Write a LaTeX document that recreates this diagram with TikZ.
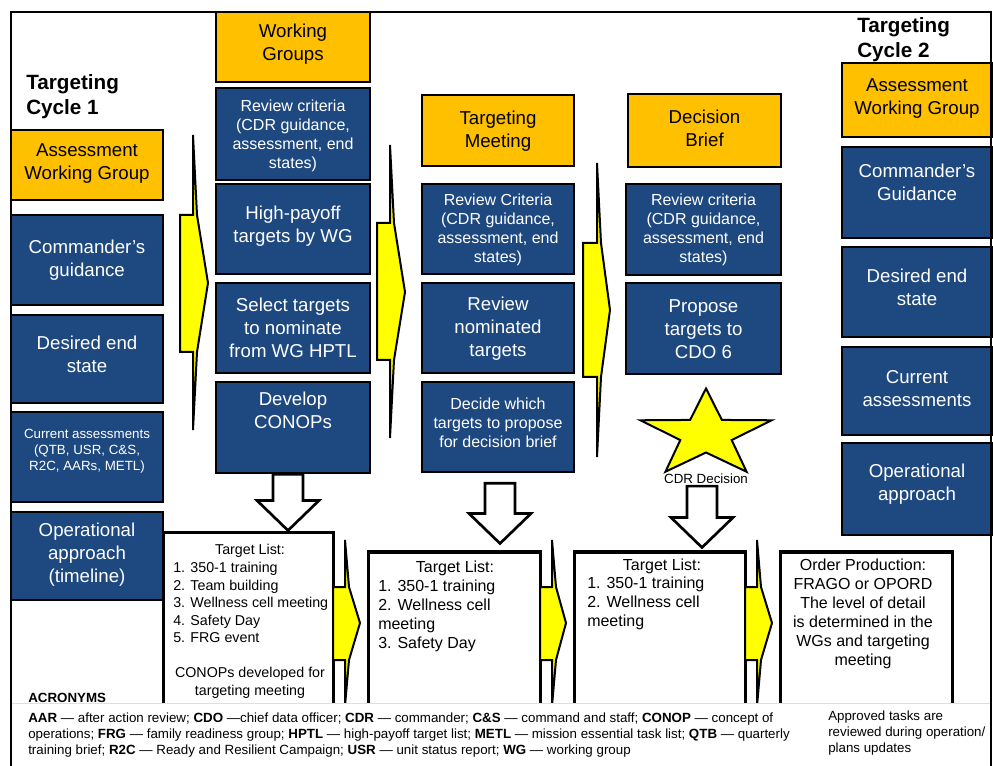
\documentclass[tikz,border=0pt]{standalone}
\usepackage{fontspec}
\setmainfont{Liberation Sans}
\usetikzlibrary{fit,calc,positioning}

\definecolor{hdryellow}{RGB}{255,192,0}
\definecolor{cellblue}{RGB}{30,72,128}
\definecolor{flowyellow}{RGB}{255,255,0}

\newcommand{\boxfont}{\fontsize{14}{17.25}\selectfont}
\newcommand{\critfont}{\fontsize{12}{14.25}\selectfont}
\newcommand{\notefont}{\fontsize{10}{12}\selectfont}

\tikzset{
  header/.style={draw=black, line width=2pt, fill=hdryellow, inner sep=0pt},
  cell/.style={draw=black, line width=2pt, fill=cellblue, inner sep=0pt},
  intext/.style={inner sep=0pt, align=center, font=\boxfont},
  whitetext/.style={intext, text=white},
  smalltext/.style={whitetext, font=\critfont},
  dropby/.style={yshift={-(#1)*0.75pt}},
  listbox/.style={draw=black, line width=2.25pt, fill=white, inner sep=0pt},
  listtext/.style={inner sep=0pt, align=left, font=\critfont},
  flow/.style={draw=black, line width=1.5pt, fill=flowyellow, line join=miter},
  hollow/.style={draw=black, line width=2pt, fill=white, line join=miter},
  cycletitle/.style={inner sep=0pt, align=left,
    font=\fontsize{15.5}{18.75}\selectfont\bfseries},
}

\begin{document}
\begin{tikzpicture}[x=0.75pt, y=-0.75pt]
  \useasboundingbox (0,0) rectangle (993,766);

  % cycle 1
  \node[cycletitle, anchor=north west] (cyc1) at (26,74) {Targeting\\Cycle 1};
  \node[header, fit={(11,130) (163,200)},
        label={[intext, dropby=-1.5]center:{Assessment\\Working Group}}] (awg1) {};
  \node[cell, fit={(11,215) (163,305)},
        label={[whitetext, dropby=0.5]center:{Commander’s\\guidance}}] (cg1) {};
  \node[cell, fit={(11,315) (163,403)},
        label={[whitetext, dropby=-5]center:{Desired end\\state}}] (des1) {};
  \node[cell, fit={(11,412) (163,502)},
        label={[whitetext, dropby=-5.5, font=\fontsize{10}{12}\selectfont]center:{Current assessments\\(QTB, USR, C\&S,\\R2C, AARs, METL)}}] (cur1) {};
  \node[cell, fit={(11,512) (163,600)},
        label={[whitetext, dropby=-1.5]center:{Operational\\approach\\(timeline)}}] (opa1) {};

  % working groups
  \node[header, fit={(216,12) (370,82)},
        label={[intext, dropby=-2.5]center:{Working\\Groups}}] (wg) {};
  \node[cell, fit={(216,88) (370,180)},
        label={[smalltext, dropby=1.5]center:{Review criteria\\(CDR guidance,\\assessment, end\\states)}}] (rc2) {};
  \node[cell, fit={(216,184) (370,274)},
        label={[whitetext, dropby=-2.5]center:{High-payoff\\targets by WG}}] (hp) {};
  \node[cell, fit={(216,283) (370,373)},
        label={[whitetext]center:{Select targets\\to nominate\\from WG HPTL}}] (sel) {};
  \node[cell, fit={(216,382) (370,473)},
        label={[whitetext, dropby=-17.5]center:{Develop\\CONOPs}}] (dev) {};

  % targeting meeting
  \node[header, fit={(422,95) (574,166)},
        label={[intext, dropby=1]center:{Targeting\\Meeting}}] (tm) {};
  \node[cell, fit={(422,184) (574,274)},
        label={[smalltext, dropby=1]center:{Review Criteria\\(CDR guidance,\\assessment, end\\states)}}] (rc3) {};
  \node[cell, fit={(422,283) (574,373)},
        label={[whitetext, dropby=1]center:{Review\\nominated\\targets}}] (rn) {};
  \node[cell, fit={(422,382) (574,472)},
        label={[smalltext, dropby=-4]center:{Decide which\\targets to propose\\for decision brief}}] (dw) {};

  % decision brief
  \node[header, fit={(628,94) (781,167)},
        label={[intext, dropby=-2]center:{Decision\\Brief}}] (db) {};
  \node[cell, fit={(626,184) (781,275)},
        label={[smalltext]center:{Review criteria\\(CDR guidance,\\assessment, end\\states)}}] (rc4) {};
  \node[cell, fit={(626,283) (781,374)},
        label={[whitetext, dropby=1]center:{Propose\\targets to\\CDO 6}}] (pro) {};
  \begin{scope}[shift={(706,434.5)}, xscale=1.5]
    \draw[flow] (-90:46) -- (-54:18) -- (-18:46) -- (18:18) -- (54:46) -- (90:18)
      -- (126:46) -- (162:18) -- (198:46) -- (234:18) -- cycle;
  \end{scope}
  \node[inner sep=0pt, font=\notefont] (cdr) at (706,479) {CDR Decision};

  % cycle 2
  \node[cycletitle, anchor=north west] (cyc2) at (857,17) {Targeting\\Cycle 2};
  \node[header, fit={(842,63) (992,137)},
        label={[intext, dropby=-1.5]center:{Assessment\\Working Group}}] (awg2) {};
  \node[cell, fit={(842,147) (992,238)},
        label={[whitetext, dropby=-10]center:{Commander’s\\Guidance}}] (cg2) {};
  \node[cell, fit={(842,247) (992,337)},
        label={[whitetext, dropby=-4.5]center:{Desired end\\state}}] (des2) {};
  \node[cell, fit={(842,347) (992,435)},
        label={[whitetext, dropby=-2]center:{Current\\assessments}}] (cur2) {};
  \node[cell, fit={(842,443) (992,535)},
        label={[whitetext, dropby=-5]center:{Operational\\approach}}] (opa2) {};

  % target lists
  \node[listbox, fit={(163,533) (333,725)}] (tl1) {};
  \node[listbox, fit={(368,552) (540,725)}] (tl2) {};
  \node[listbox, fit={(574,552) (745,725)}] (tl3) {};
  \node[listbox, fit={(780,552) (952,725)}] (op) {};

  \node[listtext, font=\fontsize{10.7}{13.1}\selectfont, anchor=north] (tl1h) at (250,544) {Target List:};
  \node[listtext, font=\fontsize{10.7}{13.1}\selectfont, anchor=north west] (tl1l) at (173,562)
       {1. 350-1 training\\2. Team building\\3. Wellness cell meeting\\4. Safety Day\\5. FRG event};
  \node[listtext, font=\fontsize{10.7}{13.1}\selectfont, align=center, anchor=north] (tl1f) at (250,667)
       {CONOPs developed for\\targeting meeting};
  \node[listtext, anchor=north] (tl2h) at (455,561) {Target List:};
  \node[listtext, anchor=north west] (tl2l) at (378,580)
       {1. 350-1 training\\2. Wellness cell\\meeting\\3. Safety Day};
  \node[listtext, anchor=north] (tl3h) at (662,559) {Target List:};
  \node[listtext, anchor=north west] (tl3l) at (587,577)
       {1. 350-1 training\\2. Wellness cell\\meeting};
  \node[listtext, align=center, anchor=north] (opt) at (863,559)
       {Order Production:\\FRAGO or OPORD\hspace*{12pt}\\The level of detail\\is determined in the\\WGs and targeting\\meeting};

  % down arrows
  \foreach \s/\e/\dx/\g/\d in {dev/tl1/-5/0/1, dw/tl2/2/10/7, cdr/tl3/-4/2/3}
    \draw[hollow] ($(\s.south)+(\dx-15,\g)$) coordinate (a)
      -- ($(\s.south |- \e.north)+(\dx-15,-30-\d)$) -- ++(-16,0)
      -- ($(\s.south |- \e.north)+(\dx,-\d)$) -- ++(31,-30) -- ++(-16,0) |- (a) -- cycle;

  % flow arrows
  \foreach \sx/\sa/\sb/\bx/\ba/\bb/\tx/\ty in {193/135/430/180/215/352/208/283,
      390/145/438/377/223/360/405/292, 597/163/457/583/243/377/610/310,
      345/540/706/333/587/660/360/623, 552/540/706/540/587/660/566/623,
      757/540/706/745/587/660/772/623}
    \draw[flow] (\sx,\sa) -- (\sx+4,\ba) -- (\tx,\ty) -- (\sx+4,\bb) -- (\sx,\sb)
      -- (\sx,\bb) -- (\bx,\bb) -- (\bx,\ba) -- (\sx,\ba) -- cycle;

  % acronyms
  \fill[white] (12,703) rectangle (990,766);
  \draw[gray!25, line width=0.5pt] (12,703) -- (990,703);
  \node[inner sep=0pt, anchor=north west, font=\notefont\bfseries] (acro) at (28,692.5) {ACRONYMS};
  \node[inner sep=0pt, anchor=north west, align=left, font=\fontsize{10}{12}\selectfont] (legend) at (28,712.5)
       {\textbf{AAR} — after action review; \textbf{CDO} —chief data officer; \textbf{CDR} — commander; \textbf{C\&S} — command and staff; \textbf{CONOP} — concept of\\
        operations; \textbf{FRG} — family readiness group; \textbf{HPTL} — high-payoff target list; \textbf{METL} — mission essential task list; \textbf{QTB} — quarterly\\
        training brief; \textbf{R2C} — Ready and Resilient Campaign; \textbf{USR} — unit status report; \textbf{WG} — working group};
  \node[inner sep=0pt, anchor=north west, align=left, font=\fontsize{10}{12}\selectfont] (approved) at (828,710.3)
       {Approved tasks are\\reviewed during operation/\\plans updates};

  \draw[line width=1pt] (11,766) -- (11,12) -- (991,12) -- (991,766);
\end{tikzpicture}
\end{document}
